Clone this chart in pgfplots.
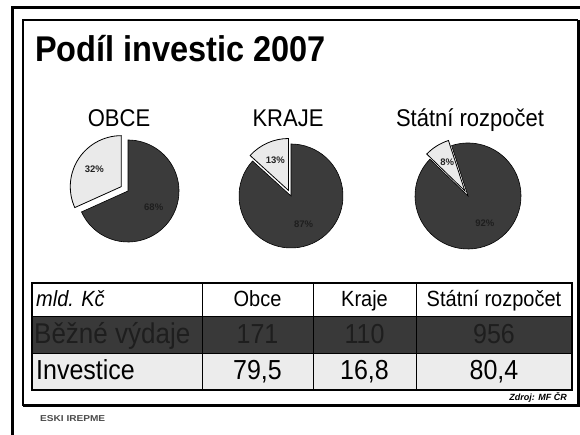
\documentclass[border=0pt]{standalone}
\usepackage{pgfplots}
\pgfplotsset{compat=1.18}
\usepackage{pgfplotstable}
\usepackage{fontspec}
\setmainfont{Liberation Sans}
\usepackage{graphicx}
\pgfkeys{/pgf/number format/assume math mode=true}

\definecolor{darkslice}{HTML}{3B3B3B}
\definecolor{lightslice}{HTML}{EAEAEA}
\definecolor{darkrow}{HTML}{393939}
\definecolor{darktext}{HTML}{1E1E1E}
\definecolor{lightrow}{HTML}{ECECEC}
\definecolor{pielabel}{HTML}{222222}

% data in mld. Kc
\pgfplotstableread{
name   bezne invest
Obce   171   79.5
Kraje  110   16.8
Statni 956   80.4
}\investdata

\newcommand{\setv}[2]{\expandafter\xdef\csname #1\endcsname{#2}}
% #1 id, #2 row, #3 cx, #4 cy, #5 r, #6 start angle, #7 explode
\newcommand{\computepie}[7]{%
  \pgfplotstablegetelem{#2}{bezne}\of\investdata \edef\Pvb{\pgfplotsretval}%
  \pgfplotstablegetelem{#2}{invest}\of\investdata \edef\Pvi{\pgfplotsretval}%
  \pgfmathsetmacro\Pshare{\Pvi/(\Pvb+\Pvi)}%
  \pgfmathsetmacro\Pang{360*\Pshare}%
  \pgfmathsetmacro\Pend{#6+\Pang}%
  \pgfmathsetmacro\Pmid{#6+\Pang/2}%
  \pgfmathsetmacro\Pdmid{\Pend+(360-\Pang)/2}%
  \pgfmathsetmacro\Pdend{#6+360}%
  \pgfmathsetmacro\Plx{#3+#7*cos(\Pmid)}%
  \pgfmathsetmacro\Ply{#4+#7*sin(\Pmid)}%
  \pgfmathsetmacro\Plsx{\Plx+#5*cos(#6)}%
  \pgfmathsetmacro\Plsy{\Ply+#5*sin(#6)}%
  \pgfmathsetmacro\Pdsx{#3+#5*cos(\Pend)}%
  \pgfmathsetmacro\Pdsy{#4+#5*sin(\Pend)}%
  \pgfmathsetmacro\Pllx{\Plx+0.63*#5*cos(\Pmid)}%
  \pgfmathsetmacro\Plly{\Ply+0.63*#5*sin(\Pmid)}%
  \pgfmathsetmacro\Pdlx{#3+0.6*#5*cos(\Pdmid)}%
  \pgfmathsetmacro\Pdly{#4+0.6*#5*sin(\Pdmid)}%
  \pgfmathtruncatemacro\Ppct{round(100*\Pshare)}%
  \pgfmathtruncatemacro\Pdpct{100-\Ppct}%
  \setv{#1cx}{#3}\setv{#1cy}{#4}\setv{#1r}{#5}\setv{#1s}{#6}%
  \setv{#1e}{\Pend}\setv{#1de}{\Pdend}%
  \setv{#1lx}{\Plx}\setv{#1ly}{\Ply}\setv{#1lsx}{\Plsx}\setv{#1lsy}{\Plsy}%
  \setv{#1dsx}{\Pdsx}\setv{#1dsy}{\Pdsy}%
  \setv{#1llx}{\Pllx}\setv{#1lly}{\Plly}\setv{#1dlx}{\Pdlx}\setv{#1dly}{\Pdly}%
  \setv{#1pct}{\Ppct}\setv{#1dpct}{\Pdpct}%
}
\computepie{A}{0}{128}{244}{51}{90}{8}
\computepie{B}{1}{291}{239}{52}{90}{6}
\computepie{C}{2}{468}{239}{53}{108}{6}

\newcommand{\vs}[1]{\scalebox{1}[1.1]{#1}}
\newcommand{\cell}[2]{\pgfplotstablegetelem{#1}{#2}\of\investdata\pgfmathprintnumber[use comma]{\pgfplotsretval}}

\begin{document}
\begin{tikzpicture}[x=1pt,y=1pt]
\useasboundingbox (0,0) rectangle (580,435);
\fill[white] (0,0) rectangle (580,435);

% frames
\draw[line width=3pt] (12,-5) -- (12,427) -- (590,427);
\draw[line width=2pt] (23,29) -- (23,415) -- (578,415);
\draw[line width=3pt] (23,29) -- (578.5,29) -- (578.5,415);

% title
\node[anchor=base west, inner sep=0] at (35,373)
  {\fontsize{32.5}{38}\selectfont\bfseries\vs{Podíl investic 2007}};

% pie titles
\node[anchor=base, inner sep=0] at (119,308) {\fontsize{22}{26}\selectfont\vs{OBCE}};
\node[anchor=base, inner sep=0] at (288,308) {\fontsize{22}{26}\selectfont\vs{KRAJE}};
\node[anchor=base, inner sep=0] at (470,308) {\fontsize{22}{26}\selectfont\vs{Státní rozpočet}};

\begin{axis}[at={(0,0)}, anchor=south west, x=1pt, y=1pt,
  xmin=0, xmax=580, ymin=0, ymax=435, hide axis, clip=false]
  % OBCE
  \fill[darkslice, draw=black, line width=0.6pt] (axis cs:\Acx,\Acy) -- (axis cs:\Adsx,\Adsy)
     arc[start angle=\Ae, end angle=\Ade, radius=\Ar pt] -- cycle;
  \fill[lightslice, draw=black, line width=0.8pt] (axis cs:\Alx,\Aly) -- (axis cs:\Alsx,\Alsy)
     arc[start angle=\As, end angle=\Ae, radius=\Ar pt] -- cycle;
  % KRAJE
  \fill[darkslice, draw=black, line width=0.6pt] (axis cs:\Bcx,\Bcy) -- (axis cs:\Bdsx,\Bdsy)
     arc[start angle=\Be, end angle=\Bde, radius=\Br pt] -- cycle;
  \fill[lightslice, draw=black, line width=0.8pt] (axis cs:\Blx,\Bly) -- (axis cs:\Blsx,\Blsy)
     arc[start angle=\Bs, end angle=\Be, radius=\Br pt] -- cycle;
  % STATNI
  \fill[darkslice, draw=black, line width=0.6pt] (axis cs:\Ccx,\Ccy) -- (axis cs:\Cdsx,\Cdsy)
     arc[start angle=\Ce, end angle=\Cde, radius=\Cr pt] -- cycle;
  \fill[lightslice, draw=black, line width=0.8pt] (axis cs:\Clx,\Cly) -- (axis cs:\Clsx,\Clsy)
     arc[start angle=\Cs, end angle=\Ce, radius=\Cr pt] -- cycle;
  % labels
  \node[font=\fontsize{9.5}{11}\selectfont\bfseries, text=pielabel] at (axis cs:\Allx,\Ally) {\Apct\%};
  \node[font=\fontsize{9.5}{11}\selectfont\bfseries, text=darktext] at (axis cs:\Adlx,\Adly) {\Adpct\%};
  \node[font=\fontsize{9.5}{11}\selectfont\bfseries, text=pielabel] at (axis cs:\Bllx,\Blly) {\Bpct\%};
  \node[font=\fontsize{9.5}{11}\selectfont\bfseries, text=darktext] at (axis cs:\Bdlx,\Bdly) {\Bdpct\%};
  \node[font=\fontsize{9.5}{11}\selectfont\bfseries, text=pielabel] at (axis cs:\Cllx,\Clly) {\Cpct\%};
  \node[font=\fontsize{9.5}{11}\selectfont\bfseries, text=darktext] at (axis cs:\Cdlx,\Cdly) {\Cdpct\%};
\end{axis}

% table
\fill[white] (32,118) rectangle (572,152);
\fill[darkrow] (32,81) rectangle (572,118);
\fill[lightrow] (32,45) rectangle (572,81);
\draw[line width=1pt] (32,118) -- (572,118);
\draw[line width=1pt] (32,81) -- (572,81);
\foreach \xx in {202,313,416} \draw[line width=1pt] (\xx,45) -- (\xx,152);
\draw[line width=2pt] (32,45) rectangle (572,152);

\node[anchor=base west, inner sep=0] at (36,128) {\fontsize{20}{24}\selectfont\itshape\vs{mld. Kč}};
\node[anchor=base, inner sep=0] at (257.5,128) {\fontsize{20}{24}\selectfont\vs{Obce}};
\node[anchor=base, inner sep=0] at (364.5,128) {\fontsize{20}{24}\selectfont\vs{Kraje}};
\node[anchor=base, inner sep=0] at (494,128) {\fontsize{20}{24}\selectfont\vs{Státní rozpočet}};

\node[anchor=base west, inner sep=0, text=darktext] at (34,91) {\fontsize{26}{30}\selectfont\vs{Běžné výdaje}};
\node[anchor=base, inner sep=0, text=darktext] at (257.5,91) {\fontsize{25}{30}\selectfont\vs{\cell{0}{bezne}}};
\node[anchor=base, inner sep=0, text=darktext] at (364.5,91) {\fontsize{25}{30}\selectfont\vs{\cell{1}{bezne}}};
\node[anchor=base, inner sep=0, text=darktext] at (494,91) {\fontsize{25}{30}\selectfont\vs{\cell{2}{bezne}}};

\node[anchor=base west, inner sep=0] at (36,55) {\fontsize{25}{30}\selectfont\vs{Investice}};
\node[anchor=base, inner sep=0] at (257.5,55) {\fontsize{25}{30}\selectfont\vs{\cell{0}{invest}}};
\node[anchor=base, inner sep=0] at (364.5,55) {\fontsize{25}{30}\selectfont\vs{\cell{1}{invest}}};
\node[anchor=base, inner sep=0] at (494,55) {\fontsize{25}{30}\selectfont\vs{\cell{2}{invest}}};

% source and logo
\node[anchor=base east, inner sep=0] at (567,34) {\fontsize{9}{10}\selectfont\bfseries\itshape Zdroj: MF ČR};
\node[anchor=west, inner sep=0, text=black!70] at (40,16) {\fontsize{8}{9}\selectfont\bfseries\resizebox{65pt}{6pt}{ESKI IREPME}};
\end{tikzpicture}
\end{document}
